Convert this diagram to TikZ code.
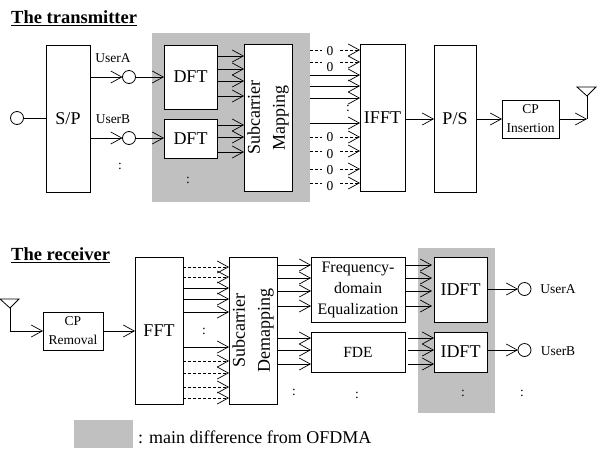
\documentclass[tikz,border=0pt]{standalone}
\usepackage{fontspec}
\setmainfont{Liberation Serif}
\usetikzlibrary{arrows.meta}
\definecolor{diffgray}{RGB}{192,192,192}
\tikzset{
    arr/.style={line width=0.8pt, -{Straight Barb[length=11pt, width=12pt, line width=0.7pt]}},
    dasharr/.style={arr, densely dashed, line width=0.4pt},
    blockbox/.style={draw, line width=0.8pt, fill=white, anchor=north west, inner sep=0pt, outer sep=0pt, font=\fontsize{18}{25}\selectfont, align=center},
    port/.style={draw, circle, line width=0.8pt, minimum size=13pt, inner sep=0pt, outer sep=0pt},
    diffarea/.style={fill=diffgray, anchor=north west, inner sep=0pt, outer sep=0pt},
    smalltext/.style={font=\fontsize{13.5}{19}\selectfont, align=center, inner sep=0pt},
    sidelabel/.style={font=\fontsize{18}{25}\selectfont, align=center, rotate=90, inner sep=0pt},
    titletext/.style={font=\fontsize{18.5}{22}\selectfont\bfseries, anchor=west, inner sep=0pt},
    zeromask/.style={fill=white, inner sep=0pt, minimum width=18pt, minimum height=8pt}
}
\begin{document}
\begin{tikzpicture}[x=1pt, y=-1pt]
    \useasboundingbox (0,0) rectangle (602,448);
    % shaded areas
    \node[diffarea, minimum width=158pt, minimum height=169pt] (grayt) at (152,33) {};
    \node[diffarea, minimum width=77pt, minimum height=165pt] (grayr) at (418,248) {};
    \node[diffarea, minimum width=59pt, minimum height=28pt] (grayl) at (74,420) {};
    % transmitter
    \node[titletext] (titlet) at (11,18) {\underline{The transmitter}};
    \node[port] (txin) at (17,118) {};
    \node[blockbox, minimum width=44pt, minimum height=147pt] (sp) at (46,45) {S/P};
    \node[smalltext] (labta) at (113,58) {UserA};
    \node[smalltext] (labtb) at (113,119) {UserB};
    \node[port] (txa) at (129,77) {};
    \node[port] (txb) at (129,138) {};
    \node[blockbox, minimum width=53pt, minimum height=64pt] (dfta) at (164,45) {DFT};
    \node[blockbox, minimum width=53pt, minimum height=39pt] (dftb) at (164,119) {DFT};
    \node[blockbox, minimum width=48pt, minimum height=147pt] (map) at (244,44) {};
    \node[sidelabel] (maplab) at (map) {Subcarrier\\Mapping};
    \node[blockbox, minimum width=45pt, minimum height=147pt] (ifft) at (360,44) {IFFT};
    \node[blockbox, minimum width=42pt, minimum height=147pt] (ps) at (434,45) {P/S};
    \node[blockbox, minimum width=57pt, minimum height=38pt, font=\fontsize{13.5}{19}\selectfont] (cpins) at (502,100) {CP\\Insertion};
    \node[smalltext] (dot1) at (120,166) {:};
    \node[smalltext] (dot2) at (188,180) {:};
    \node[smalltext] (dot3) at (348,108) {:};
    \coordinate (anttip) at (587,119);
    \coordinate (antapex) at (587,96);
    \coordinate (antl) at (577,87);
    \coordinate (antr) at (596,87);
    % transmitter connectors
    \draw[line width=0.8pt] (txin.east) -- (sp.west |- txin);
    \draw[arr] (sp.east |- txa) -- (txa.west);
    \draw[arr] (txa.east) -- (dfta.west |- txa);
    \draw[arr] (sp.east |- txb) -- (txb.west);
    \draw[arr] (txb.east) -- (dftb.west |- txb);
    \foreach \y in {56,69,81,96}
        \draw[arr] (dfta.east |- 0,\y) -- (map.west |- 0,\y);
    \foreach \y in {125,137,152}
        \draw[arr] (dftb.east |- 0,\y) -- (map.west |- 0,\y);
    \foreach \y in {75,86,98,123}
        \draw[arr] (grayt.east |- 0,\y) -- (ifft.west |- 0,\y);
    \foreach \y in {50,62,137,151,169,183}
        \draw[dasharr] (grayt.east |- 0,\y) -- (ifft.west |- 0,\y) node[zeromask, pos=.42] {};
    \foreach \y in {51,67,137,154,170,186}
        \node[smalltext] at (330,\y) {0};
    \draw[arr] (ifft.east |- cpins) -- (ps.west |- cpins);
    \draw[arr] (ps.east |- cpins) -- (cpins.west);
    \draw[arr] (cpins.east) -- (anttip);
    \draw[line width=0.8pt] (anttip) -- (antapex);
    \draw[line width=0.8pt] (antl) -- (antr) -- (antapex) -- cycle;
    % receiver
    \node[titletext] (titler) at (11,255) {\underline{The receiver}};
    \node[blockbox, minimum width=60pt, minimum height=38pt, font=\fontsize{13.5}{19}\selectfont] (cprem) at (43,312) {CP\\Removal};
    \node[blockbox, minimum width=48pt, minimum height=147pt] (fft) at (135,257) {FFT};
    \node[blockbox, minimum width=48pt, minimum height=147pt] (demap) at (229,257) {};
    \node[sidelabel] (demaplab) at (demap) {Subcarrier\\Demapping};
    \node[blockbox, minimum width=94pt, minimum height=65pt, font=\fontsize{16}{21}\selectfont] (fdea) at (311,257) {Frequency-\\domain\\Equalization};
    \node[blockbox, minimum width=94pt, minimum height=40pt, font=\fontsize{15.5}{20}\selectfont] (fdeb) at (311,332) {FDE};
    \node[blockbox, minimum width=53pt, minimum height=65pt] (idfta) at (434,257) {IDFT};
    \node[blockbox, minimum width=53pt, minimum height=40pt] (idftb) at (434,332) {IDFT};
    \node[port] (rxa) at (524.5,289) {};
    \node[port] (rxb) at (524.5,350) {};
    \node[smalltext] (labra) at (558,289) {UserA};
    \node[smalltext] (labrb) at (558,351) {UserB};
    \node[smalltext] (dot4) at (204,331) {:};
    \node[smalltext] (dot5) at (294,392) {:};
    \node[smalltext] (dot6) at (357,395) {:};
    \node[smalltext] (dot7) at (463,393) {:};
    \node[smalltext] (dot8) at (522,393) {:};
    \coordinate (rantapex) at (10,308);
    \coordinate (rantl) at (0,299);
    \coordinate (rantr) at (19,299);
    % receiver connectors
    \draw[line width=0.8pt] (rantl) -- (rantr) -- (rantapex) -- cycle;
    \draw[arr] (rantapex) |- (cprem.west);
    \draw[arr] (cprem.east) -- (fft.west |- cprem);
    \foreach \y in {288,299,312,347}
        \draw[arr] (fft.east |- 0,\y) -- (demap.west |- 0,\y);
    \foreach \y in {267,277,361,373,387,398}
        \draw[dasharr] (fft.east |- 0,\y) -- (demap.west |- 0,\y);
    \foreach \y in {265,278,291,306}
        \draw[arr, shorten <=1pt] (demap.east |- 0,\y) -- (fdea.west |- 0,\y);
    \foreach \y in {338,350,364}
        \draw[arr, shorten <=1pt] (demap.east |- 0,\y) -- (fdeb.west |- 0,\y);
    \foreach \y in {265,278,291,306}
        \draw[arr, shorten >=2pt] (fdea.east |- 0,\y) -- (idfta.west |- 0,\y);
    \foreach \y in {338,350,364}
        \draw[arr, shorten <=3pt] (fdeb.east |- 0,\y) -- (idftb.west |- 0,\y);
    \draw[arr] (idfta.east |- rxa) -- (rxa.west);
    \draw[arr] (idftb.east |- rxb) -- (rxb.west);
    % legend
    \node[anchor=west, inner sep=0pt, font=\fontsize{18}{22}\selectfont] (legend) at (138,437) {: main difference from OFDMA};
\end{tikzpicture}
\end{document}
